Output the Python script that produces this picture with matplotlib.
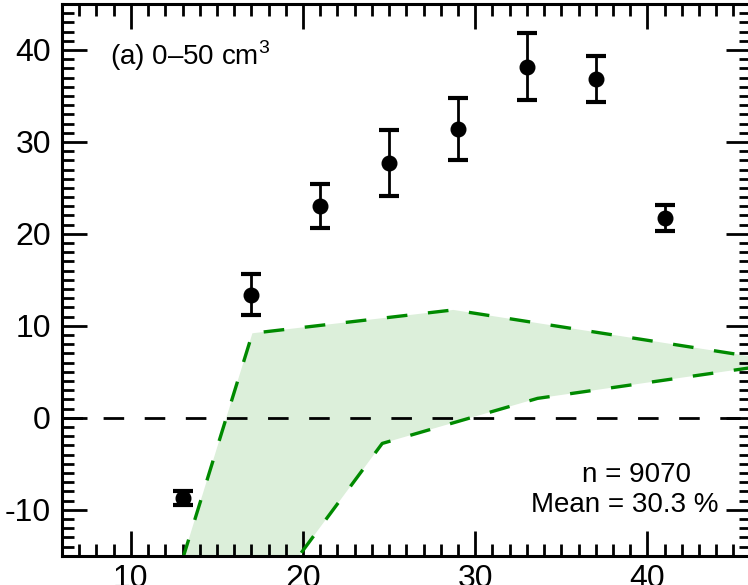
import matplotlib
matplotlib.use("Agg")
import matplotlib.pyplot as plt
from matplotlib.ticker import MultipleLocator

plt.rcParams["font.family"] = ["Liberation Sans", "DejaVu Sans"]
plt.rcParams["mathtext.fontset"] = "custom"
plt.rcParams["mathtext.rm"] = "Liberation Sans"
plt.rcParams["axes.unicode_minus"] = False

# binned points with error bars
bin_x = [13, 17, 21, 25, 29, 33, 37, 41]
bin_y = [-8.7, 13.4, 23.0, 27.7, 31.4, 38.2, 36.8, 21.7]
bin_err = [0.75, 2.2, 2.4, 3.6, 3.4, 3.6, 2.5, 1.4]

# envelope of the green band
upper_x = [13.0, 17.06, 28.73, 46.0]
upper_y = [-15.4, 9.19, 11.73, 6.67]
lower_x = [17.0, 24.6, 33.62, 46.0]
lower_y = [-22.0, -2.79, 2.11, 5.44]

label_text = "(a) 0\u201350 cm$^3$"
n_text = "n = 9070"
mean_text = "Mean = 30.3 %"

green = "#008a00"

fig = plt.figure(figsize=(7.48, 5.85), dpi=100)
ax = fig.add_axes([62 / 748, 29.3 / 585, (750.7 - 62) / 748, (555.7 - 4) / 585])

poly_x = upper_x + lower_x[::-1]
poly_y = upper_y + lower_y[::-1]
ax.fill(poly_x, poly_y, color="#dcefda", lw=0, zorder=1)
ax.plot(upper_x, upper_y, color=green, lw=2.4, dashes=(6.2, 6.2), zorder=2)
ax.plot(lower_x, lower_y, color=green, lw=2.4, dashes=(6.2, 6.2), zorder=2)

ax.axhline(0, color="black", lw=2, dashes=(7.4, 7.4), zorder=3)

ax.errorbar(bin_x, bin_y, yerr=bin_err, fmt="o", color="black", ms=10.5,
            elinewidth=2, capsize=7, capthick=3, zorder=5)

ax.set_xlim(6, 46)
ax.set_ylim(-15, 45)
ax.xaxis.set_major_locator(MultipleLocator(10))
ax.xaxis.set_minor_locator(MultipleLocator(1))
ax.yaxis.set_major_locator(MultipleLocator(10))
ax.yaxis.set_minor_locator(MultipleLocator(1))
ax.tick_params(which="both", direction="in", top=True, right=True, width=2,
               labelsize=23)
ax.tick_params(which="major", length=18)
ax.tick_params(which="minor", length=8.6)
ax.tick_params(axis="x", which="major", pad=6)
ax.tick_params(axis="y", which="major", pad=8)
for sp in ax.spines.values():
    sp.set_linewidth(2.2)

# text placed in pixel coordinates (origin bottom-left)
ax.text(110, 585 - 65, label_text, transform=None, fontsize=20, ha="left", va="baseline")
ax.text(636, 585 - 482.3, n_text, transform=None, fontsize=20, ha="center", va="baseline")
ax.text(624.5, 585 - 512.3, mean_text, transform=None, fontsize=20, ha="center", va="baseline")

fig.savefig("out.png", dpi=100)
